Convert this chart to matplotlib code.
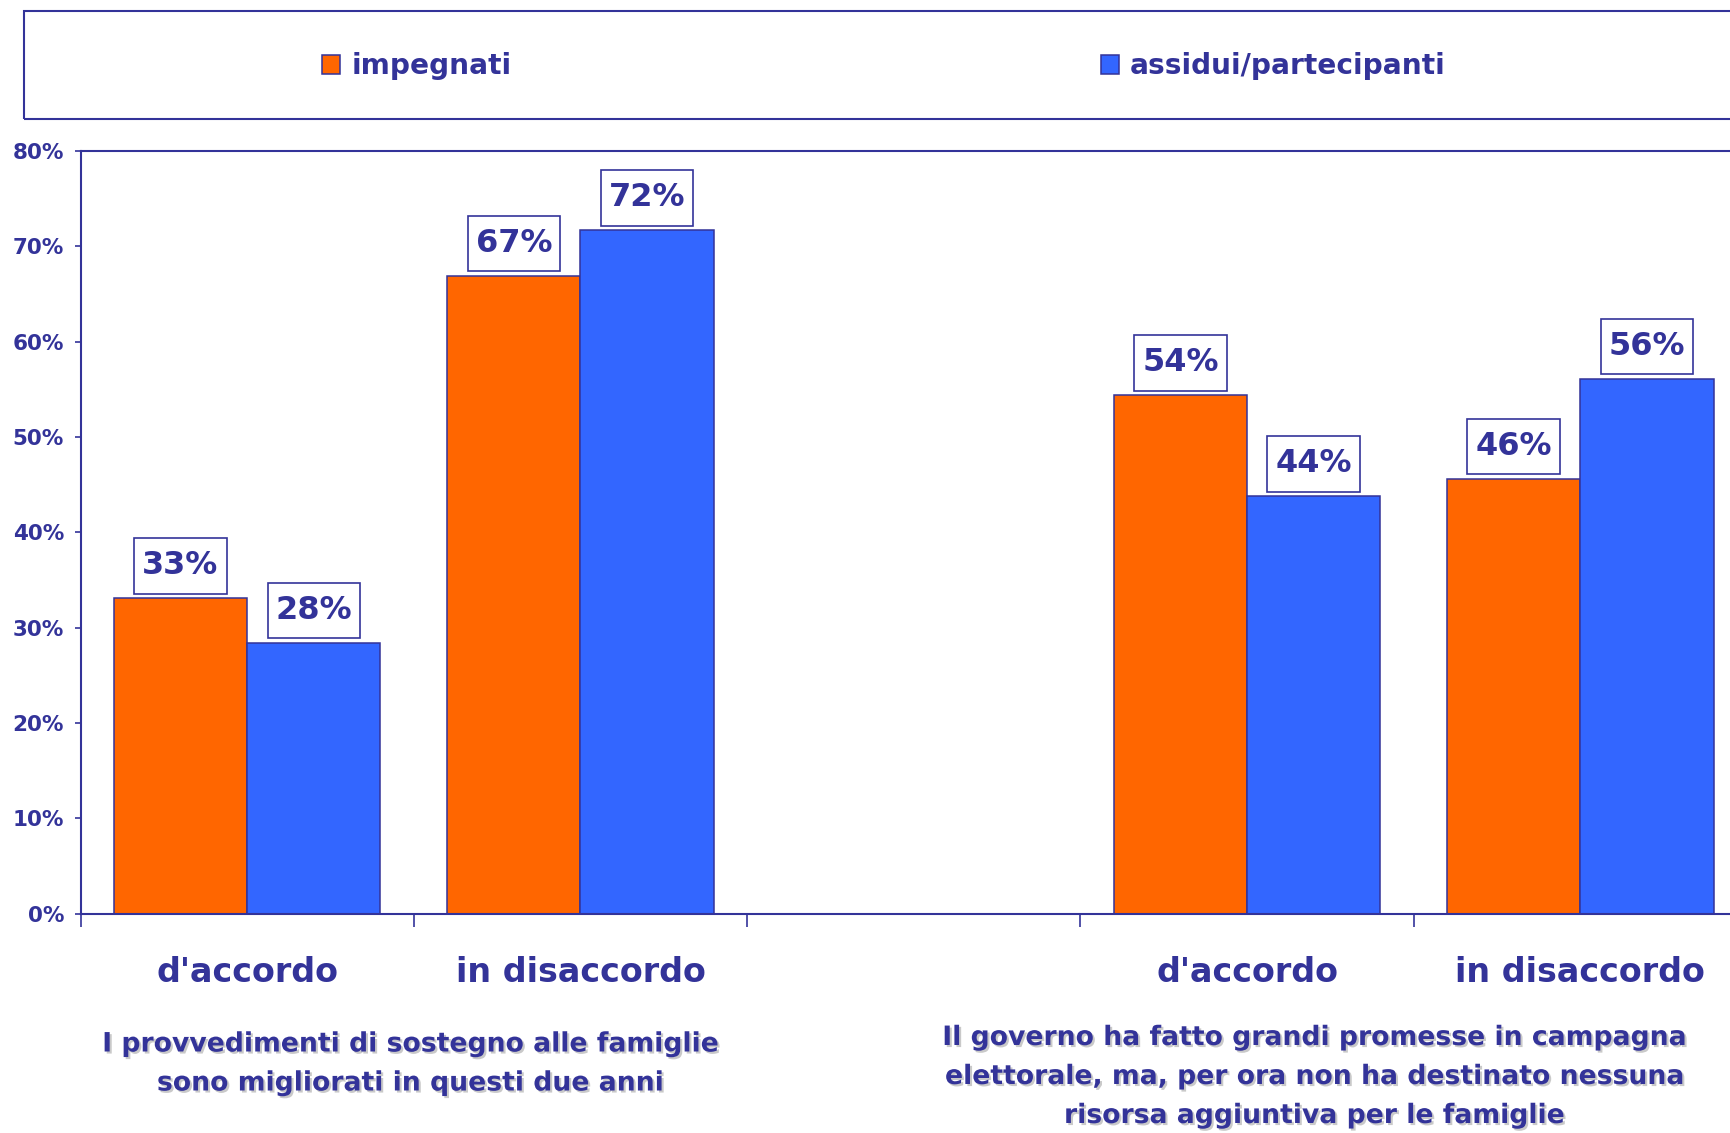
import numpy as np
import matplotlib
matplotlib.use("Agg")
import matplotlib.pyplot as plt
import matplotlib.patches as mpatches
import matplotlib.patheffects as pe
from matplotlib.path import Path

# data
categories = ["d'accordo", "in disaccordo", "d'accordo", "in disaccordo"]
slots = [0, 1, 3, 4]   # slot 2 is left empty between the two questions
impegnati = [33.1, 66.9, 54.4, 45.6]
assidui = [28.4, 71.7, 43.8, 56.1]
impegnati_lbl = ["33%", "67%", "54%", "46%"]
assidui_lbl = ["28%", "72%", "44%", "56%"]
series_names = ["impegnati", "assidui/partecipanti"]
yticks = [0, 10, 20, 30, 40, 50, 60, 70, 80]
questions = ["I provvedimenti di sostegno alle famiglie\nsono migliorati in questi due anni",
             "Il governo ha fatto grandi promesse in campagna\nelettorale, ma, per ora non ha destinato nessuna\nrisorsa aggiuntiva per le famiglie"]

navy = "#333399"
orange = "#FF6600"
blue = "#3366FF"
plt.rcParams["font.family"] = ["DejaVu Sans"]
plt.rcParams["font.weight"] = "bold"

W, H = 1730, 1133
fig = plt.figure(figsize=(W / 100, H / 100), dpi=100)
fig.patch.set_facecolor("white")

# axes runs off the right edge like the original
ax = fig.add_axes([80.5 / W, 1 - 913.6 / H, (1747 - 80.5) / W, (913.6 - 151) / H])

x = np.array(slots, dtype=float)
b1 = ax.bar(x - 0.2, impegnati, 0.4, color=orange, edgecolor=navy, linewidth=1.1,
            label=series_names[0])
b2 = ax.bar(x + 0.2, assidui, 0.4, color=blue, edgecolor=navy, linewidth=1.1,
            label=series_names[1])


def label_box(x0, y0, width, height, mutation_size):
    # taller than wide padding, like the excel label boxes
    px, py = 0.25 * mutation_size, 0.38 * mutation_size
    x0, y0 = x0 - px, y0 - py
    x1, y1 = x0 + width + 2 * px, y0 + height + 2 * py
    return Path([(x0, y0), (x1, y0), (x1, y1), (x0, y1), (x0, y0)], closed=True)


box = dict(boxstyle=label_box, facecolor="white", edgecolor=navy, linewidth=1.2)
for cont, lbls in [(b1, impegnati_lbl), (b2, assidui_lbl)]:
    ax.bar_label(cont, labels=lbls, padding=12, fontsize=23, fontweight="bold",
                 color=navy, bbox=box)

ax.set_xlim(-0.5, 4.5)
ax.set_ylim(0, 80)
ax.set_yticks(yticks)
ax.set_yticklabels([f"{v}%" for v in yticks])
ax.tick_params(axis="y", colors=navy, labelcolor=navy, labelsize=15.5,
               length=4.3, width=1.2, pad=7.5)

ax.set_xticks(np.arange(-0.5, 5, 1.0))
ax.set_xticklabels([])
ax.tick_params(axis="x", which="major", colors=navy, length=9, width=1.2)
ax.set_xticks(x, minor=True)
ax.set_xticklabels(categories, minor=True)
ax.tick_params(axis="x", which="minor", length=0, labelsize=24, labelcolor=navy, pad=30.5)

for s in ["top", "left", "bottom", "right"]:
    ax.spines[s].set_color(navy)
    ax.spines[s].set_linewidth(1.5)

# legend box across the top
fig.patches.append(mpatches.Rectangle((24 / W, 1 - 119 / H), 1.0, 108 / H,
                                      transform=fig.transFigure, fill=False,
                                      edgecolor=navy, linewidth=1.5))
leg = fig.legend(handles=[b1, b2], loc="center left",
                 bbox_to_anchor=(322 / W, 1 - 66 / H), bbox_transform=fig.transFigure,
                 ncol=2, frameon=False, fontsize=20.2, borderpad=0, borderaxespad=0,
                 handlelength=0.65, handleheight=0.65, handletextpad=0.4,
                 columnspacing=21.0)
for t in leg.get_texts():
    t.set_color(navy)
    t.set_fontweight("bold")

shadow = [pe.SimplePatchShadow(offset=(1.5, -1.5), shadow_rgbFace="#c4c4c4", alpha=0.9),
          pe.Normal()]
fig.text(410 / W, 1 - 1064 / H, questions[0], ha="center", va="center",
         multialignment="center", fontsize=19.2, fontweight="bold", color=navy,
         linespacing=1.65, path_effects=shadow)
fig.text(1314 / W, 1 - 1077 / H, questions[1], ha="center", va="center",
         multialignment="center", fontsize=19.2, fontweight="bold", color=navy,
         linespacing=1.65, path_effects=shadow)

fig.savefig("out.png", dpi=100, facecolor="white")
